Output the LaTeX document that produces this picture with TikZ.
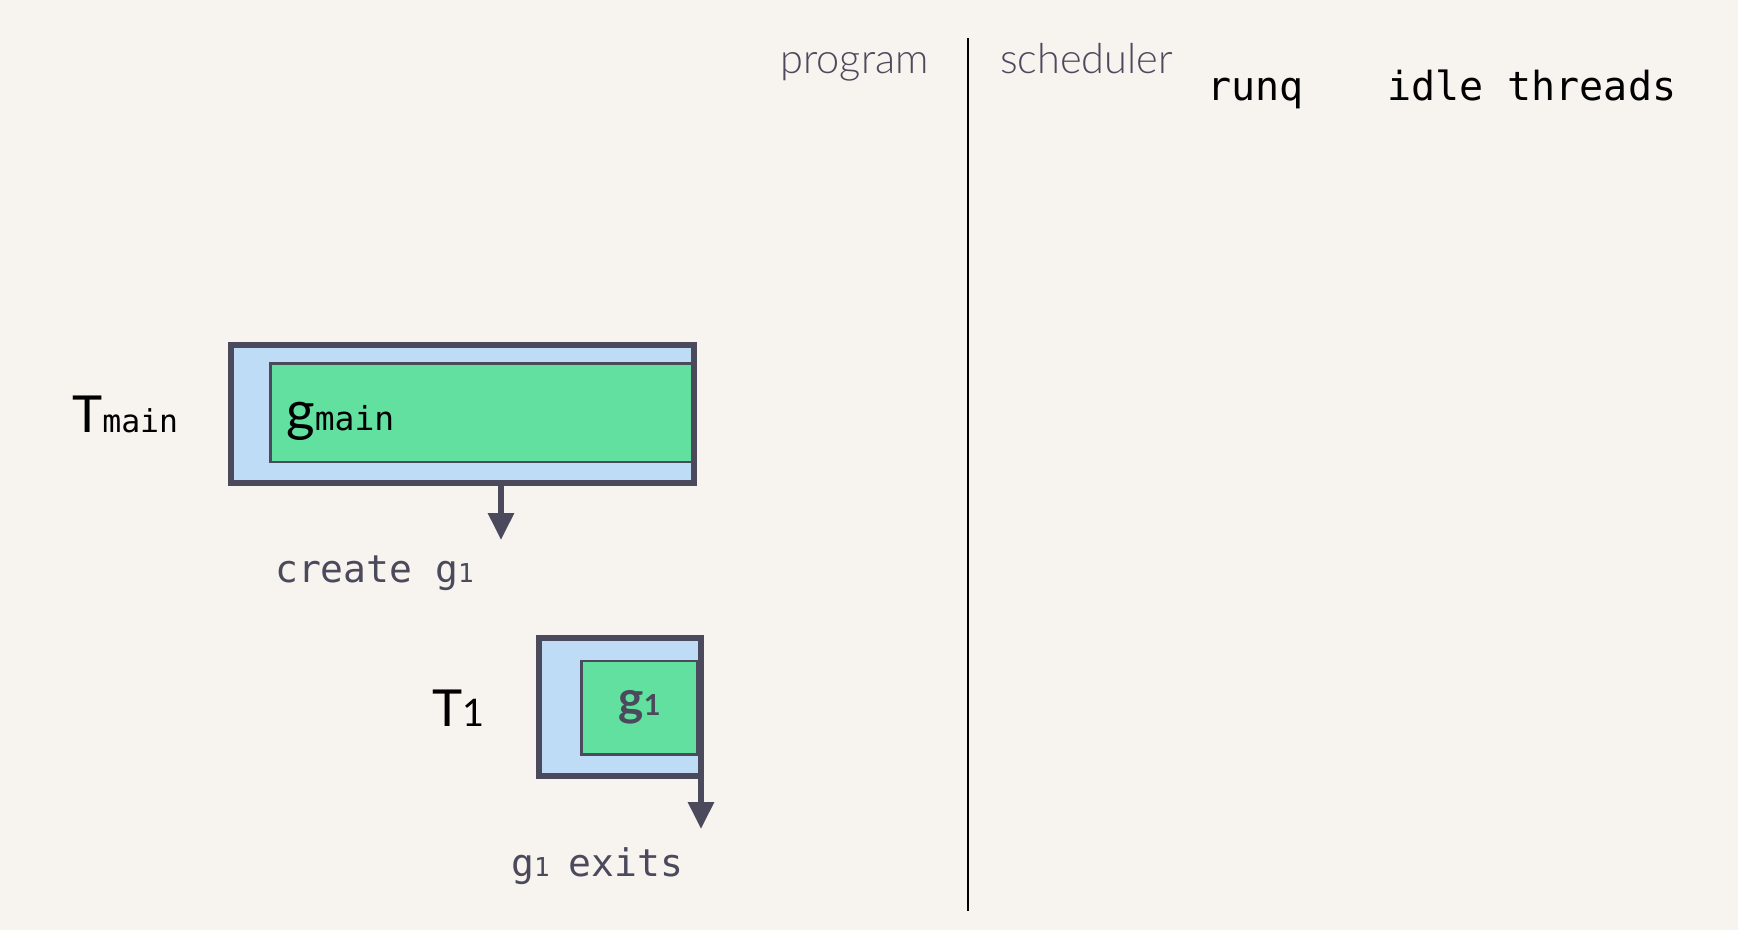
\documentclass[tikz,border=0pt]{standalone}
\usepackage{fontspec}
\setmainfont{Lato}
\newfontfamily\monof{DejaVu Sans Mono}
\newfontfamily\lightf{Lato Light}
\usetikzlibrary{arrows.meta}
\definecolor{bg}{HTML}{F7F3EE}
\definecolor{tblue}{HTML}{BEDCF6}
\definecolor{ggreen}{HTML}{62E0A0}
\definecolor{dark}{HTML}{4B4A5C}
\tikzset{
  thread/.style={fill=tblue, inner sep=0pt, minimum width=#1},
  gbox/.style={fill=ggreen, draw=dark, line width=2.6pt, inner sep=0pt},
  tborder/.style={draw=dark, line width=6pt},
  lab/.style={inner sep=0pt, anchor=base west},
  event/.style={draw=dark, line width=6pt, -{Triangle[width=25pt,length=27pt]}},
  monolab/.style={lab, text=dark, font=\monof\fontsize{38}{38}\selectfont},
  headlab/.style={inner sep=0pt, text=black, font=\monof\fontsize{40}{40}\selectfont, anchor=base west},
  collab/.style={inner sep=0pt, text=dark, font=\lightf\fontsize{41.5}{41.5}\selectfont},
}
\begin{document}
\begin{tikzpicture}[x=1pt,y=-1pt]
\fill[bg] (0,0) rectangle (1738,930);
\useasboundingbox (0,0) rectangle (1738,930);
% divider
\coordinate (vtop) at (968,38);
\coordinate (vbot) at (968,911);
\draw[line width=2pt, black] (vtop) -- (vbot);
% headers
\node[collab, anchor=base east] (prog) at (929,73) {program};
\node[collab, anchor=base west] (sched) at (1000,73) {scheduler};
\node[headlab] (runq) at (1207,100) {runq};
\node[headlab] (idle) at (1387,100) {idle threads};
% T main
\node[thread=463pt, minimum height=138pt] (tmain) at (462.5,414) {};
\node[gbox, minimum width=423.5pt, minimum height=98.5pt] (gmain) at (482.25,412.75) {};
\draw[tborder] (tmain.south west) rectangle (tmain.north east);
\node[lab] (gmainl) at (286,430) {\fontsize{55}{55}\selectfont g{\monof\fontsize{33}{33}\selectfont main}};
\node[lab] (tmainl) at (72,432) {\fontsize{51}{51}\selectfont T{\monof\fontsize{31.5}{31.5}\selectfont main}};
\coordinate (a1s) at (501,483);
\coordinate (a1e) at (501,540);
\draw[event] (a1s) -- (a1e);
\node[monolab] (create) at (275,582) {create g{\fontsize{26}{26}\selectfont 1}};
% T1
\node[thread=161.5pt, minimum height=138pt] (t1) at (620.25,707) {};
\node[gbox, minimum width=116pt, minimum height=93.5pt, text=dark, font=\bfseries\fontsize{48}{48}\selectfont] (g1) at (639.5,707.75) {g{\fontsize{29}{29}\selectfont 1}};
\draw[tborder] (t1.south west) rectangle (t1.north east);
\node[lab] (t1l) at (432,726) {\fontsize{51}{51}\selectfont T{\fontsize{38}{38}\selectfont 1}};
\coordinate (a2s) at (701,776);
\coordinate (a2e) at (701,829);
\draw[event] (a2s) -- (a2e);
\node[monolab] (exits) at (511,876) {g{\fontsize{26}{26}\selectfont 1}\hspace{-4pt} exits};
\end{tikzpicture}
\end{document}
